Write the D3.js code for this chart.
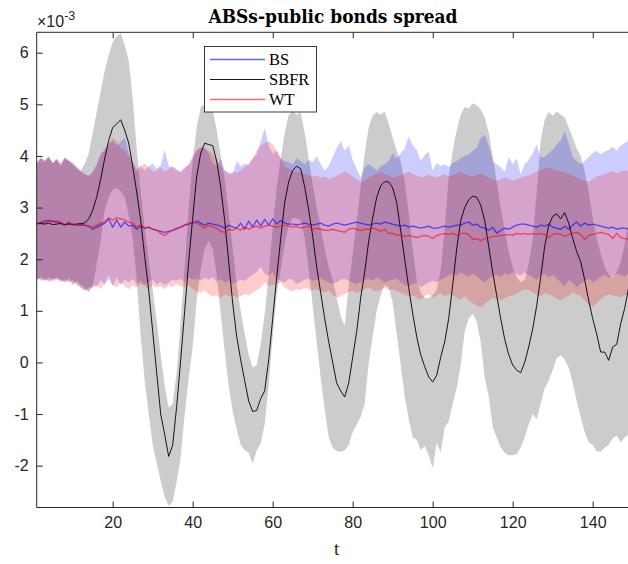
<!DOCTYPE html>
<html>
<head>
<meta charset="utf-8">
<script src="https://cdn.jsdelivr.net/npm/d3@7"></script>
<style>
  html, body { margin: 0; padding: 0; background: #ffffff; }
  svg { display: block; }
</style>
</head>
<body>
<script>
// Spread series in units of 1e-3, one value per period t = 1..150
const periods = d3.range(1, 151);

const sbfrMean = [
  2.70, 2.69, 2.68, 2.70, 2.67, 2.68, 2.69, 2.67, 2.68, 2.67,
  2.68, 2.69, 2.70, 2.78, 2.95, 3.20, 3.55, 3.95, 4.30, 4.55,
  4.62, 4.70, 4.50, 4.25, 3.80, 3.30, 2.75, 2.05, 1.40, 0.60,
  -0.20, -1.00, -1.40, -1.82, -1.60, -0.85, 0.05, 1.00, 1.95, 2.80,
  3.60, 4.05, 4.25, 4.22, 4.20, 3.90, 3.40, 2.75, 1.95, 1.15,
  0.50, 0.05, -0.35, -0.75, -0.95, -0.93, -0.70, -0.55, 0.05, 0.85,
  1.65, 2.40, 3.10, 3.50, 3.72, 3.80, 3.75, 3.40, 2.95, 2.45,
  1.85, 1.35, 0.85, 0.40, 0.00, -0.40, -0.55, -0.67, -0.40, 0.10,
  0.60, 1.25, 1.75, 2.35, 2.80, 3.20, 3.42, 3.50, 3.50, 3.38,
  3.10, 2.55, 2.00, 1.45, 0.95, 0.50, 0.15, -0.08, -0.28, -0.38,
  -0.25, 0.10, 0.40, 0.85, 1.50, 2.20, 2.75, 3.00, 3.15, 3.22,
  3.20, 3.05, 2.75, 2.25, 1.75, 1.30, 0.85, 0.45, 0.15, -0.05,
  -0.15, -0.20, 0.00, 0.30, 0.65, 1.10, 1.65, 2.25, 2.65, 2.83,
  2.88, 2.78, 2.90, 2.70, 2.40, 2.15, 1.95, 1.60, 1.20, 0.85,
  0.55, 0.20, 0.20, 0.04, 0.30, 0.35, 0.75, 1.05, 1.45, 1.85
];
const sbfrUpper = [
  3.85, 3.95, 3.88, 3.98, 3.85, 3.92, 3.80, 3.95, 3.90, 3.82,
  3.75, 3.70, 3.85, 4.05, 4.45, 4.85, 5.25, 5.65, 5.95, 6.20,
  6.32, 6.38, 6.15, 5.85, 5.12, 4.15, 3.30, 2.60, 2.00, 1.40,
  0.80, 0.15, -0.45, -0.88, -0.80, -0.20, 0.80, 1.85, 3.00, 3.90,
  4.55, 4.95, 5.00, 4.96, 4.90, 4.50, 4.00, 3.55, 2.90, 2.20,
  1.50, 1.00, 0.55, 0.15, -0.10, -0.05, 0.35, 0.95, 1.70, 2.60,
  3.40, 3.95, 4.45, 4.80, 4.86, 4.80, 4.84, 4.45, 3.95, 3.45,
  3.00, 2.60, 2.20, 1.85, 1.60, 1.25, 0.90, 0.70, 1.50, 2.10,
  2.75, 3.40, 4.05, 4.55, 4.78, 4.85, 4.80, 4.86, 4.62, 4.35,
  4.10, 3.90, 3.50, 2.90, 2.20, 1.60, 1.35, 1.25, 1.25, 1.30,
  1.40, 1.80, 2.60, 3.60, 4.10, 4.50, 4.80, 4.95, 4.92, 5.02,
  4.98, 4.90, 4.75, 4.45, 4.00, 3.50, 3.00, 2.55, 2.15, 1.85,
  1.65, 1.55, 1.60, 1.90, 2.40, 3.30, 4.30, 4.70, 4.85, 4.78,
  4.86, 4.80, 4.75, 4.55, 4.35, 4.15, 4.00, 3.70, 3.30, 2.80,
  2.40, 2.10, 1.85, 1.70, 1.65, 1.75, 1.95, 2.30, 2.75, 3.20
];
const sbfrLower = [
  1.60, 1.66, 1.58, 1.65, 1.60, 1.66, 1.56, 1.62, 1.55, 1.60,
  1.50, 1.45, 1.40, 1.45, 1.45, 1.90, 2.35, 2.95, 3.20, 3.35,
  3.38, 3.32, 3.20, 2.85, 2.40, 1.60, 0.50, -0.35, -1.00, -1.60,
  -1.95, -2.30, -2.60, -2.78, -2.70, -2.30, -1.85, -1.00, -0.30, 0.30,
  1.20, 1.80, 2.20, 2.35, 2.20, 1.70, 0.95, 0.20, -0.45, -0.95,
  -1.30, -1.60, -1.70, -1.75, -1.96, -1.70, -1.57, -1.20, -0.45, 0.50,
  1.30, 1.80, 2.30, 2.65, 2.80, 2.80, 2.75, 2.40, 1.80, 1.10,
  0.40, -0.30, -0.90, -1.45, -1.65, -1.72, -1.73, -1.70, -1.60, -1.35,
  -1.20, -1.05, -0.80, 0.00, 0.50, 1.00, 1.30, 1.50, 1.45, 1.15,
  0.55, -0.05, -0.65, -1.10, -1.45, -1.50, -1.70, -1.62, -1.80, -2.05,
  -1.55, -1.75, -1.25, -1.15, -0.80, -0.50, -0.05, 0.60, 0.85, 0.94,
  0.80, 0.40, -0.30, -0.65, -1.25, -1.45, -1.65, -1.75, -1.80, -1.80,
  -1.78, -1.65, -1.45, -1.20, -1.00, -1.10, -0.80, -0.50, -0.35, -0.15,
  0.08, 0.14, 0.05, -0.10, -0.40, -0.75, -1.05, -1.35, -1.55, -1.60,
  -1.72, -1.73, -1.65, -1.60, -1.47, -1.42, -1.55, -1.45, -1.40, -1.30
];

const bsMean = [
  2.68, 2.70, 2.72, 2.74, 2.73, 2.72, 2.70, 2.66, 2.70, 2.68,
  2.66, 2.67, 2.66, 2.64, 2.58, 2.62, 2.66, 2.70, 2.78, 2.62,
  2.76, 2.62, 2.72, 2.64, 2.66, 2.58, 2.64, 2.60, 2.62, 2.58,
  2.56, 2.54, 2.52, 2.54, 2.56, 2.60, 2.62, 2.66, 2.68, 2.70,
  2.74, 2.70, 2.66, 2.70, 2.68, 2.66, 2.64, 2.60, 2.66, 2.62,
  2.60, 2.70, 2.58, 2.74, 2.62, 2.76, 2.64, 2.77, 2.66, 2.78,
  2.68, 2.75, 2.70, 2.68, 2.68, 2.67, 2.68, 2.70, 2.68, 2.66,
  2.68, 2.70, 2.66, 2.64, 2.68, 2.70, 2.68, 2.66, 2.68, 2.70,
  2.72, 2.70, 2.68, 2.66, 2.68, 2.70, 2.68, 2.72, 2.70, 2.68,
  2.66, 2.64, 2.66, 2.62, 2.64, 2.62, 2.60, 2.62, 2.64, 2.60,
  2.60, 2.62, 2.64, 2.62, 2.64, 2.66, 2.66, 2.70, 2.72, 2.66,
  2.68, 2.62, 2.60, 2.56, 2.62, 2.50, 2.56, 2.60, 2.58, 2.62,
  2.66, 2.68, 2.68, 2.66, 2.64, 2.62, 2.66, 2.64, 2.68, 2.62,
  2.60, 2.58, 2.64, 2.58, 2.66, 2.72, 2.64, 2.70, 2.66, 2.68,
  2.66, 2.64, 2.62, 2.60, 2.62, 2.58, 2.60, 2.60, 2.58, 2.60
];
const bsUpper = [
  3.87, 3.98, 3.90, 4.00, 3.86, 3.95, 3.84, 3.98, 3.92, 3.86,
  3.80, 3.70, 3.64, 3.62, 3.70, 3.85, 4.05, 4.10, 4.25, 4.30,
  4.20, 4.28, 4.35, 4.05, 3.85, 3.70, 3.80, 3.72, 3.80, 3.85,
  3.75, 3.82, 4.12, 3.80, 3.78, 3.74, 3.70, 3.78, 3.82, 3.95,
  4.10, 4.15, 4.16, 4.05, 3.85, 3.80, 3.95, 3.72, 3.68, 3.64,
  3.90, 3.80, 3.86, 3.82, 3.95, 4.03, 4.29, 4.54, 4.20, 4.05,
  4.10, 3.95, 3.90, 3.88, 3.84, 3.95, 3.90, 3.84, 3.92, 3.88,
  4.00, 3.84, 3.72, 3.80, 3.98, 4.15, 4.29, 4.10, 4.20, 3.92,
  3.75, 3.58, 3.78, 3.84, 3.78, 3.72, 3.80, 3.84, 3.90, 4.05,
  3.95, 4.05, 4.15, 4.38, 4.20, 4.12, 3.90, 4.02, 4.08, 3.72,
  3.86, 3.80, 3.84, 3.78, 3.86, 3.90, 3.95, 4.00, 4.03, 4.10,
  4.16, 4.35, 4.41, 4.20, 3.90, 3.84, 3.78, 3.70, 3.98, 3.84,
  3.95, 3.64, 3.84, 3.92, 4.05, 4.22, 3.98, 3.98, 4.05, 4.12,
  4.22, 4.30, 4.48, 4.25, 3.98, 3.90, 3.84, 3.90, 3.98, 4.05,
  4.10, 4.03, 4.08, 4.12, 4.18, 4.10, 4.20, 4.25, 4.30, 4.28
];
const bsLower = [
  1.65, 1.58, 1.63, 1.56, 1.62, 1.60, 1.62, 1.55, 1.64, 1.52,
  1.58, 1.50, 1.46, 1.36, 1.52, 1.45, 1.60, 1.50, 1.62, 1.48,
  1.65, 1.50, 1.60, 1.55, 1.62, 1.52, 1.58, 1.50, 1.55, 1.60,
  1.52, 1.56, 1.50, 1.55, 1.60, 1.58, 1.62, 1.55, 1.65, 1.60,
  1.62, 1.58, 1.64, 1.60, 1.65, 1.56, 1.62, 1.55, 1.58, 1.52,
  1.56, 1.60, 1.58, 1.64, 1.70, 1.75, 1.85, 1.72, 1.68, 1.75,
  1.62, 1.58, 1.55, 1.62, 1.60, 1.52, 1.56, 1.60, 1.62, 1.58,
  1.60, 1.64, 1.58, 1.55, 1.52, 1.55, 1.60, 1.62, 1.58, 1.55,
  1.52, 1.56, 1.60, 1.62, 1.58, 1.64, 1.60, 1.55, 1.58, 1.60,
  1.62, 1.55, 1.50, 1.48, 1.52, 1.55, 1.45, 1.50, 1.55, 1.58,
  1.55, 1.60, 1.64, 1.70, 1.72, 1.68, 1.74, 1.70, 1.66, 1.72,
  1.68, 1.60, 1.55, 1.62, 1.68, 1.70, 1.66, 1.72, 1.70, 1.75,
  1.72, 1.68, 1.74, 1.70, 1.65, 1.60, 1.68, 1.72, 1.65, 1.70,
  1.62, 1.55, 1.48, 1.60, 1.55, 1.45, 1.52, 1.58, 1.62, 1.55,
  1.60, 1.65, 1.70, 1.64, 1.68, 1.72, 1.70, 1.66, 1.74, 1.72
];

const wtMean = [
  2.68, 2.72, 2.75, 2.76, 2.74, 2.74, 2.72, 2.66, 2.72, 2.66,
  2.68, 2.66, 2.66, 2.64, 2.62, 2.66, 2.70, 2.72, 2.80, 2.76,
  2.80, 2.78, 2.76, 2.72, 2.70, 2.62, 2.66, 2.60, 2.62, 2.58,
  2.56, 2.50, 2.46, 2.52, 2.56, 2.58, 2.62, 2.66, 2.70, 2.72,
  2.70, 2.66, 2.60, 2.66, 2.62, 2.60, 2.54, 2.52, 2.58, 2.56,
  2.60, 2.56, 2.62, 2.58, 2.62, 2.64, 2.60, 2.64, 2.66, 2.64,
  2.62, 2.64, 2.66, 2.64, 2.62, 2.64, 2.60, 2.62, 2.64, 2.58,
  2.60, 2.58, 2.56, 2.56, 2.58, 2.56, 2.54, 2.52, 2.58, 2.60,
  2.58, 2.56, 2.58, 2.58, 2.60, 2.58, 2.54, 2.58, 2.50, 2.50,
  2.46, 2.48, 2.44, 2.46, 2.44, 2.42, 2.44, 2.46, 2.44, 2.40,
  2.46, 2.48, 2.50, 2.48, 2.50, 2.46, 2.50, 2.50, 2.48, 2.38,
  2.40, 2.36, 2.40, 2.42, 2.44, 2.44, 2.46, 2.46, 2.48, 2.46,
  2.50, 2.48, 2.50, 2.48, 2.50, 2.48, 2.50, 2.48, 2.42, 2.48,
  2.50, 2.48, 2.44, 2.48, 2.50, 2.52, 2.48, 2.38, 2.46, 2.48,
  2.50, 2.52, 2.50, 2.48, 2.40, 2.50, 2.42, 2.40, 2.38, 2.40
];
const wtUpper = [
  3.85, 3.95, 3.92, 3.97, 3.88, 3.94, 3.86, 3.96, 3.90, 3.88,
  3.78, 3.72, 3.66, 3.60, 3.68, 3.80, 4.00, 4.15, 4.20, 4.35,
  4.28, 4.15, 4.10, 4.00, 3.90, 3.75, 3.80, 3.85, 3.78, 3.70,
  3.72, 3.78, 3.70, 3.75, 3.80, 3.72, 3.68, 3.75, 3.85, 4.00,
  4.12, 4.18, 4.15, 4.10, 4.05, 3.92, 3.80, 3.72, 3.64, 3.70,
  3.68, 3.72, 3.78, 3.85, 3.95, 4.10, 4.20, 4.25, 4.28, 4.23,
  4.10, 3.95, 3.80, 3.75, 3.72, 3.68, 3.70, 3.65, 3.62, 3.60,
  3.62, 3.58, 3.60, 3.55, 3.58, 3.62, 3.65, 3.70, 3.66, 3.60,
  3.55, 3.50, 3.52, 3.58, 3.62, 3.65, 3.68, 3.64, 3.62, 3.58,
  3.60, 3.62, 3.66, 3.70, 3.65, 3.62, 3.58, 3.60, 3.64, 3.60,
  3.58, 3.62, 3.65, 3.60, 3.62, 3.66, 3.70, 3.65, 3.62, 3.60,
  3.64, 3.66, 3.62, 3.58, 3.55, 3.52, 3.55, 3.58, 3.56, 3.52,
  3.55, 3.58, 3.60, 3.62, 3.66, 3.70, 3.72, 3.75, 3.78, 3.74,
  3.72, 3.70, 3.68, 3.66, 3.62, 3.58, 3.55, 3.52, 3.50, 3.55,
  3.60, 3.62, 3.65, 3.68, 3.70, 3.66, 3.70, 3.72, 3.70, 3.68
];
const wtLower = [
  1.60, 1.62, 1.58, 1.60, 1.56, 1.62, 1.58, 1.55, 1.60, 1.50,
  1.55, 1.46, 1.40, 1.38, 1.45, 1.50, 1.42, 1.55, 1.70, 1.50,
  1.45, 1.55, 1.48, 1.42, 1.50, 1.45, 1.52, 1.48, 1.42, 1.50,
  1.45, 1.48, 1.42, 1.50, 1.46, 1.52, 1.48, 1.45, 1.50, 1.42,
  1.38, 1.35, 1.40, 1.32, 1.28, 1.30, 1.25, 1.32, 1.28, 1.30,
  1.26, 1.28, 1.32, 1.30, 1.35, 1.40, 1.45, 1.55, 1.48, 1.50,
  1.52, 1.55, 1.45, 1.40, 1.38, 1.42, 1.40, 1.45, 1.42, 1.40,
  1.42, 1.38, 1.35, 1.40, 1.30, 1.26, 1.28, 1.32, 1.36, 1.40,
  1.35, 1.38, 1.42, 1.45, 1.40, 1.38, 1.42, 1.45, 1.40, 1.42,
  1.38, 1.35, 1.32, 1.28, 1.30, 1.25, 1.22, 1.28, 1.32, 1.26,
  1.30, 1.34, 1.28, 1.32, 1.30, 1.25, 1.22, 1.28, 1.20, 1.15,
  1.10, 1.07, 1.12, 1.20, 1.25, 1.22, 1.20, 1.24, 1.28, 1.30,
  1.34, 1.38, 1.42, 1.40, 1.36, 1.30, 1.28, 1.34, 1.32, 1.28,
  1.24, 1.20, 1.26, 1.30, 1.35, 1.32, 1.28, 1.20, 1.12, 1.08,
  1.15, 1.22, 1.28, 1.32, 1.30, 1.28, 1.26, 1.30, 1.32, 1.30
];

const xTicks = [20, 40, 60, 80, 100, 120, 140];
const yTicks = [-2, -1, 0, 1, 2, 3, 4, 5, 6];
const seriesNames = ["BS", "SBFR", "WT"];

// ---- layout ----
const W = 628, H = 564;
const plotLeft = 36.7, plotRight = 632.7, plotTop = 32.3, plotBottom = 507.5;
const axisColor = "#262626";

const svg = d3.select("body").append("svg")
  .attr("width", W).attr("height", H)
  .attr("viewBox", `0 0 ${W} ${H}`);

const x = d3.scaleLinear().domain([1, 150]).range([plotLeft, plotRight]);
const y = d3.scaleLinear().domain([-2.81, 6.395]).range([plotBottom, plotTop]);

svg.append("defs").append("clipPath").attr("id", "plotClip")
  .append("rect")
  .attr("x", plotLeft).attr("y", plotTop)
  .attr("width", plotRight - plotLeft).attr("height", plotBottom - plotTop);

const plot = svg.append("g").attr("clip-path", "url(#plotClip)");
const idx = periods.map((p, i) => i);

function band(lo, hi) {
  return d3.area()
    .x(i => x(periods[i]))
    .y0(i => y(lo[i]))
    .y1(i => y(hi[i]))(idx);
}
function path(vals) {
  return d3.line()
    .x(i => x(periods[i]))
    .y(i => y(vals[i]))(idx);
}

// confidence bands
plot.append("path").attr("d", band(sbfrLower, sbfrUpper))
  .attr("fill", "#000000").attr("fill-opacity", 0.2);
plot.append("path").attr("d", band(bsLower, bsUpper))
  .attr("fill", "#0000ff").attr("fill-opacity", 0.2);
plot.append("path").attr("d", band(wtLower, wtUpper))
  .attr("fill", "#ff0000").attr("fill-opacity", 0.2);

// mean paths
const lineStyles = {
  BS:   { color: "#0000ff", opacity: 0.6, width: 1.3 },
  SBFR: { color: "#000000", opacity: 0.9, width: 1.0 },
  WT:   { color: "#ff0000", opacity: 0.6, width: 1.3 }
};
const means = { BS: bsMean, SBFR: sbfrMean, WT: wtMean };
seriesNames.forEach(name => {
  const s = lineStyles[name];
  plot.append("path").attr("d", path(means[name]))
    .attr("fill", "none")
    .attr("stroke", s.color)
    .attr("stroke-opacity", s.opacity)
    .attr("stroke-width", s.width)
    .attr("stroke-linejoin", "round");
});

// ---- axes ----
function styleAxis(g) {
  g.select(".domain").remove();
  g.selectAll(".tick line").attr("stroke", axisColor).attr("stroke-width", 1);
  g.selectAll(".tick text")
    .attr("fill", axisColor)
    .style("font-family", "'Liberation Sans', Arial, Helvetica, sans-serif")
    .style("font-size", "16px");
}

svg.append("g").attr("transform", `translate(0,${plotBottom})`)
  .call(d3.axisBottom(x).tickValues(xTicks).tickSize(-6).tickPadding(9)
    .tickFormat(d => String(d)))
  .call(styleAxis);

svg.append("g").attr("transform", `translate(0,${plotTop})`)
  .call(d3.axisTop(x).tickValues(xTicks).tickSize(-6).tickFormat(() => ""))
  .call(styleAxis);

svg.append("g").attr("transform", `translate(${plotLeft},0)`)
  .call(d3.axisLeft(y).tickValues(yTicks).tickSize(-6).tickPadding(8)
    .tickFormat(d => String(d)))
  .call(styleAxis);

// axes box
svg.append("path")
  .attr("d", `M${plotLeft},${plotTop}H${plotRight}V${plotBottom}H${plotLeft}Z`)
  .attr("fill", "none").attr("stroke", axisColor).attr("stroke-width", 1);

// exponent label
const expo = svg.append("text")
  .attr("x", 37).attr("y", 27)
  .attr("fill", axisColor)
  .style("font-family", "'Liberation Sans', Arial, Helvetica, sans-serif")
  .style("font-size", "16px");
expo.append("tspan").text("\u00d710");
expo.append("tspan").attr("dy", -7).style("font-size", "12.5px").text("-3");

// title
svg.append("text")
  .attr("x", 333).attr("y", 23)
  .attr("text-anchor", "middle")
  .attr("fill", "#000")
  .attr("textLength", 249)
  .attr("lengthAdjust", "spacingAndGlyphs")
  .style("font-family", "'DejaVu Serif', serif")
  .style("font-weight", "bold")
  .style("font-size", "18px")
  .text("ABSs-public bonds spread");

// x label
svg.append("text")
  .attr("x", (plotLeft + plotRight) / 2 + 2).attr("y", 555)
  .attr("text-anchor", "middle")
  .attr("fill", axisColor)
  .style("font-family", "'Liberation Serif', 'Times New Roman', serif")
  .style("font-size", "19px")
  .text("t");

// ---- legend ----
const legend = svg.append("g");
legend.append("rect")
  .attr("x", 204.5).attr("y", 46.5).attr("width", 112).attr("height", 65.5)
  .attr("fill", "#ffffff").attr("stroke", axisColor).attr("stroke-width", 0.9);
seriesNames.forEach((name, i) => {
  const s = lineStyles[name];
  const cy = 59.5 + i * 20;
  legend.append("line")
    .attr("x1", 210).attr("x2", 265).attr("y1", cy).attr("y2", cy)
    .attr("stroke", s.color).attr("stroke-opacity", s.opacity)
    .attr("stroke-width", s.width);
  legend.append("text")
    .attr("x", 269).attr("y", cy + 5.5)
    .attr("fill", "#000")
    .style("font-family", "'Liberation Serif', 'Times New Roman', serif")
    .style("font-size", "16.5px")
    .text(name);
});
</script>
</body>
</html>
